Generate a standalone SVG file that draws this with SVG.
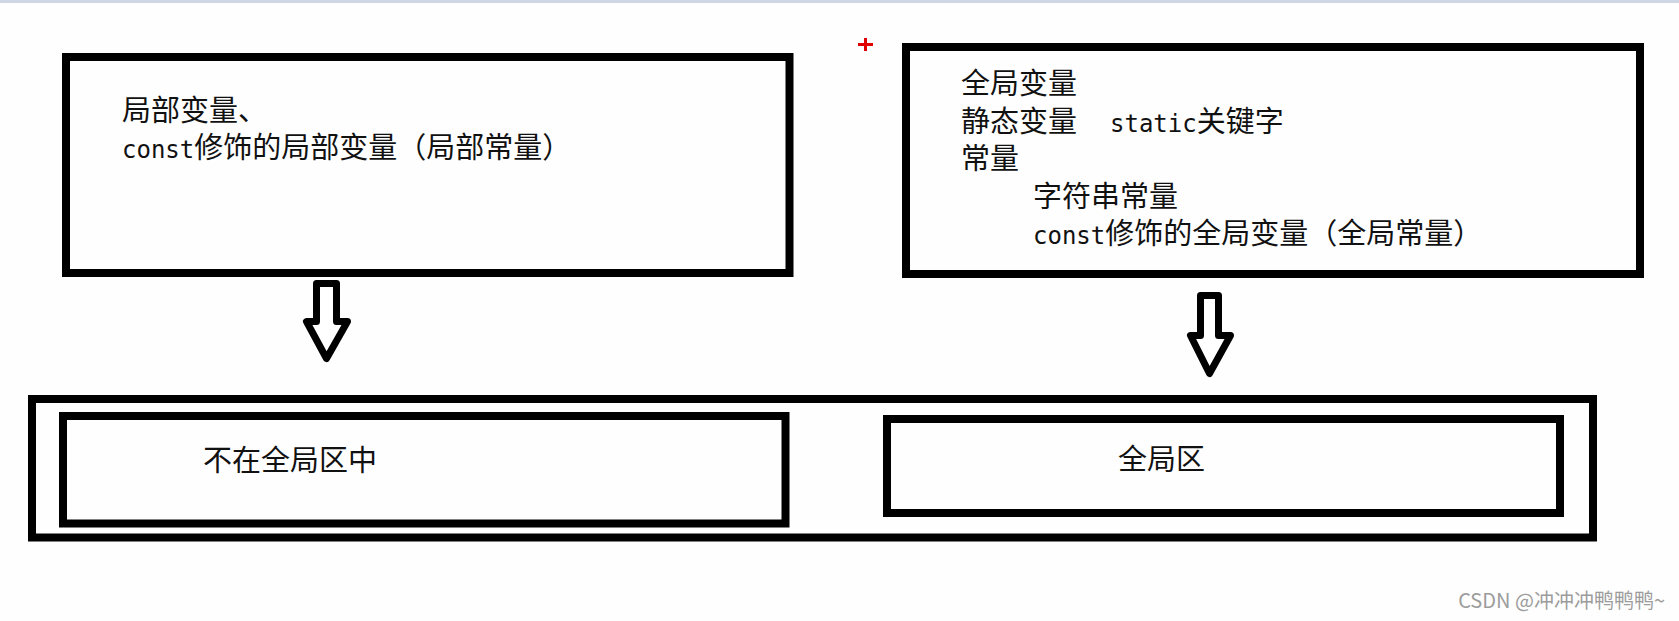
<svg xmlns="http://www.w3.org/2000/svg" width="1679" height="621" viewBox="0 0 1679 621">
  <style>
    .box { fill: none; stroke: #000; stroke-width: 8; }
    .t { font-family: "Noto Sans CJK SC", "Noto Sans", sans-serif; font-size: 29px; fill: #111; }
    .m { font-family: "DejaVu Sans Mono", "Liberation Mono", monospace; font-size: 24px; }
    .arrow { fill: #fff; stroke: #000; stroke-width: 7; stroke-linejoin: round; }
    .wm { font-family: "Noto Sans CJK SC", "Noto Sans", sans-serif; font-size: 20px; fill: #9c9c9c; }
  </style>
  <rect x="0" y="0" width="1679" height="621" fill="#fefefe"/>
  <rect x="0" y="0" width="1679" height="3" fill="#cdd6e2"/>

  <g id="local-vars">
    <rect class="box" x="66" y="57" width="723.5" height="216"/>
    <text class="t" x="122" y="121">局部变量、</text>
    <text class="t" x="122" y="158"><tspan class="m">const</tspan>修饰的局部变量（局部常量）</text>
  </g>

  <g id="global-vars">
    <rect class="box" x="906" y="47" width="734" height="227"/>
    <text class="t" x="961" y="94">全局变量</text>
    <text class="t" x="961" y="131.5">静态变量<tspan class="m" x="1110">static</tspan>关键字</text>
    <text class="t" x="961" y="169">常量</text>
    <text class="t" x="1033" y="206.5">字符串常量</text>
    <text class="t" x="1033" y="244"><tspan class="m">const</tspan>修饰的全局变量（全局常量）</text>
  </g>

  <g id="red-plus" stroke="#e00000" stroke-width="3">
    <line x1="858" y1="44.5" x2="873" y2="44.5"/>
    <line x1="865.5" y1="38" x2="865.5" y2="51"/>
  </g>

  <g id="memory">
    <rect class="box" x="32" y="399" width="1561" height="138.5"/>
  </g>

  <g id="not-global-area">
    <rect class="box" x="63" y="416" width="722.5" height="107.5"/>
    <text class="t" x="203" y="471">不在全局区中</text>
  </g>

  <g id="global-area">
    <rect class="box" x="887" y="419" width="673" height="94"/>
    <text class="t" x="1118" y="470">全局区</text>
  </g>

  <g id="connectors">
    <polygon class="arrow" points="316.5,283.5 336.5,283.5 336.5,321.5 347.5,321.5 326.5,358.5 306.5,321.5 316.5,321.5"/>
    <polygon class="arrow" points="1200.5,295.5 1218.5,295.5 1218.5,335.5 1230.5,335.5 1209.5,373.5 1190.5,335.5 1200.5,335.5"/>
  </g>

  <text class="wm" x="1665" y="608" text-anchor="end">CSDN @冲冲冲鸭鸭鸭~</text>
</svg>
